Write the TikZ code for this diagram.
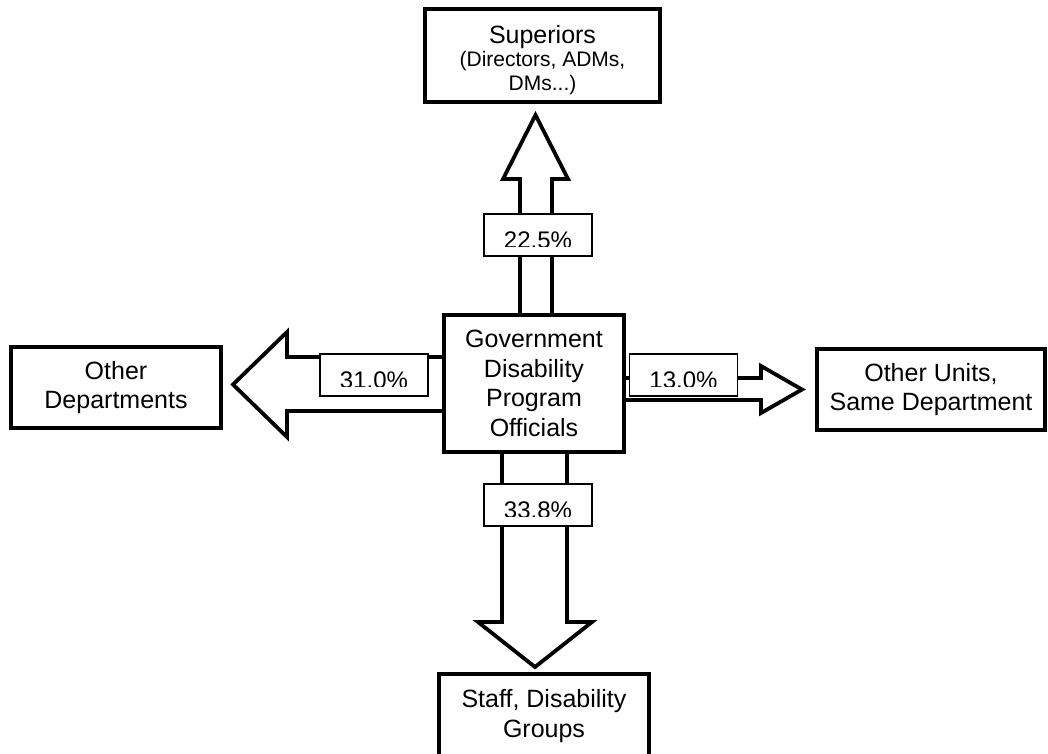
\documentclass[tikz,border=0pt]{standalone}
\usepackage{fontspec}
\setmainfont{Liberation Sans}
\usetikzlibrary{calc}

\tikzset{
  unit/.style={draw, line width=3.8pt, fill=white, align=center, inner sep=0pt,
    font=\fontsize{25}{29.7}\selectfont},
  flow/.style={draw, line width=3.8pt, fill=white, line join=miter},
  pct/.style={draw, line width=1.3pt, fill=white, inner sep=0pt,
    minimum width=108pt, minimum height=42pt},
}
\newcommand{\subfont}{\fontsize{21}{24}\selectfont}

\begin{document}
\begin{tikzpicture}[x=1pt, y=-1pt]

  \useasboundingbox (0,0) rectangle (1048,753);

  %%%%%%%%%% Block arrows %%%%%%%%%%
  \draw [flow] (520,315) -- (520,179) -- (503,179) -- (535.5,115) -- (568,179) -- (552,179) -- (552,315) ;
  \draw [flow] (502,452) -- (502,622) -- (478,622) -- (535,667) -- (592,622) -- (567,622) -- (567,452) ;
  \draw [flow] (444,357) -- (287,357) -- (287,332) -- (233,384.5) -- (287,437) -- (287,411) -- (444,411) ;
  \draw [flow] (624,378) -- (761,378) -- (761,366) -- (802,389.5) -- (761,413) -- (761,400) -- (624,400) ;

  %%%%%%%%%% Boxes %%%%%%%%%%
  \node [unit, minimum width=235pt, minimum height=93pt] (sup) at (542.5,55.5)
    {\rule{0pt}{27pt}Superiors\\[-6pt]{\subfont (Directors, ADMs,}\\[-6pt]{\subfont DMs...)}};
  \node [unit, minimum width=180pt, minimum height=137pt] (gdpo) at (534,383.5)
    {Government\\Disability\\Program\\Officials};
  \node [unit, minimum width=210pt, minimum height=81pt] (odep) at (116,387.5)
    {Other\\Departments};
  \node [unit, minimum width=228pt, minimum height=81pt] (ounit) at (931,389.5)
    {Other Units,\\Same Department};
  \node [unit, minimum width=210pt, minimum height=84pt] (staff) at (544,716)
    {Staff, Disability\\Groups};

  %%%%%%%%%% Shares %%%%%%%%%%
  \foreach \nm/\px/\py/\val in {pup/538/235/22.5, pleft/374/375/31.0, pright/683.5/375/13.0, pdown/538/505/33.8}
  {
    \node [pct] (\nm) at (\px,\py) {};
    \begin{scope}
      \clip (\nm.north west) rectangle ([yshift=10.3pt]\nm.south east);
      \node [anchor=base, inner sep=0pt, font=\fontsize{24}{28}\selectfont] (\nm-t) at ($(\nm.north)+(0,35)$) {\val\%};
    \end{scope}
  }

\end{tikzpicture}
\end{document}
